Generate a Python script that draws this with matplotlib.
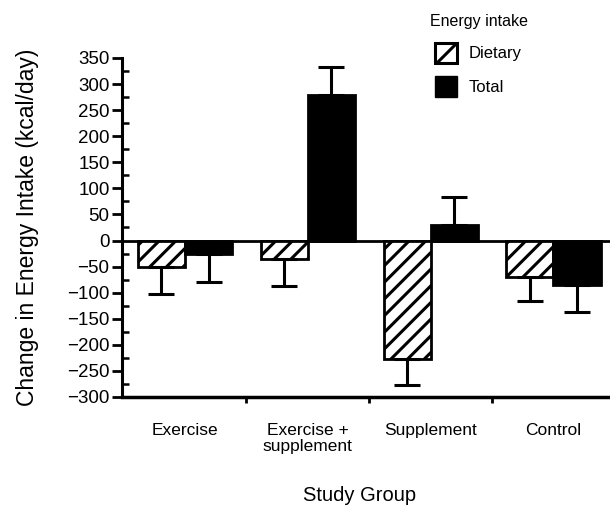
import numpy as np
import matplotlib.pyplot as plt
from matplotlib.ticker import MultipleLocator
from matplotlib.patches import Patch

plt.rcParams['font.family'] = ['Liberation Sans', 'DejaVu Sans']
plt.rcParams['hatch.linewidth'] = 2.2

groups = ["Exercise", "Exercise +\nsupplement", "Supplement", "Control"]
dietary = [-50, -36, -228, -69]
dietary_err = [52, 52, 49, 46]
total = [-26, 280, 30, -85]
total_err = [54, 52, 54, 52]

x = np.arange(len(groups))
w = 0.383


def one_sided(vals, errs):
    # error bar only on the side away from zero
    lo = [e if v < 0 else 0 for v, e in zip(vals, errs)]
    hi = [e if v >= 0 else 0 for v, e in zip(vals, errs)]
    return [lo, hi]


fig = plt.figure(figsize=(6.10, 5.11), dpi=100)
ax = fig.add_axes([0.2, 0.2231, 0.8, 0.6634])

ekw = dict(elinewidth=2.2, capthick=2.2, ecolor="black")
ax.bar(x - w / 2, dietary, w, color="white", edgecolor="black", hatch="//",
       linewidth=2, yerr=one_sided(dietary, dietary_err), capsize=9.5,
       error_kw=ekw, zorder=2)
ax.bar(x + w / 2, total, w, color="black", edgecolor="black",
       linewidth=2, yerr=one_sided(total, total_err), capsize=9.5,
       error_kw=ekw, zorder=2)

ax.axhline(0, color="black", lw=2, zorder=1)

ax.set_xlim(-0.513, 3.46)
ax.set_ylim(-300, 350)
ax.spines["top"].set_visible(False)
ax.spines["right"].set_visible(False)
ax.spines["left"].set_linewidth(2.2)
ax.spines["bottom"].set_linewidth(2.5)

ax.set_yticks(np.arange(-300, 351, 50))
ax.set_yticklabels([str(v).replace("-", "\u2212") for v in range(-300, 351, 50)])
ax.yaxis.set_minor_locator(MultipleLocator(25))
ax.tick_params(axis="y", which="major", direction="out", length=7, width=2,
               labelsize=13.5, pad=2)
ax.tick_params(axis="y", which="minor", direction="in", length=5, width=1.8)

ax.set_xticks([0.5, 1.5, 2.5])
ax.set_xticklabels([])
ax.tick_params(axis="x", which="major", direction="out", length=4, width=2)
ax.set_xticks(x, minor=True)
ax.set_xticklabels(groups, minor=True, fontsize=12.5, linespacing=1.05)
ax.tick_params(axis="x", which="minor", length=0, pad=19)

ax.set_ylabel("Change in Energy Intake (kcal/day)", fontsize=16.5, labelpad=20)
fig.text(0.59, 0.031, "Study Group", ha="center", va="center", fontsize=14.5)

handles = [Patch(facecolor="white", edgecolor="black", hatch="/", linewidth=2.2),
           Patch(facecolor="black", edgecolor="black")]
fig.legend(handles, ["Dietary", "Total"], title="Energy intake",
           loc="upper left", bbox_to_anchor=(0.685, 0.995), frameon=False,
           fontsize=12, title_fontsize=11.5, handlelength=1.3,
           handleheight=1.5, handletextpad=0.7, labelspacing=0.8,
           borderaxespad=0.3)

fig.savefig("out.png", dpi=100)
